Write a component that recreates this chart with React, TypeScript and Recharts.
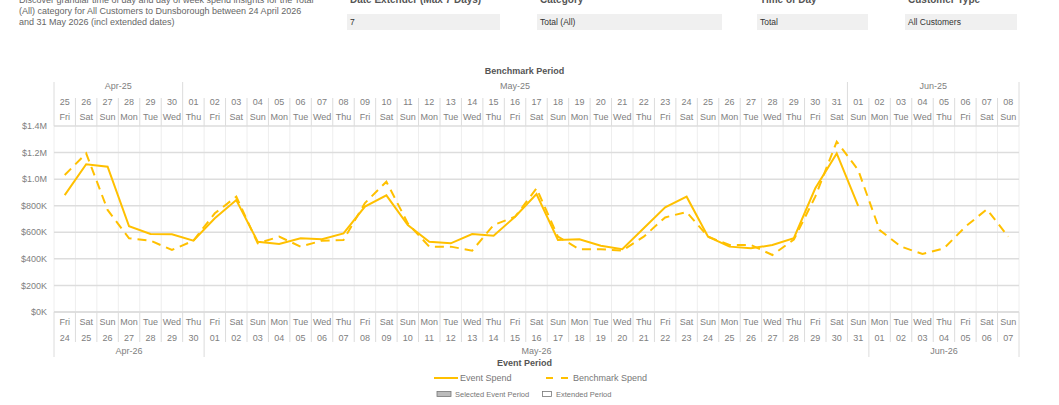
import React from 'react'
import { LineChart, Line, XAxis, YAxis, CartesianGrid } from 'recharts'

// weekday labels shared by both period axes
const weekdays = [
  'Fri', 'Sat', 'Sun', 'Mon', 'Tue', 'Wed', 'Thu',
  'Fri', 'Sat', 'Sun', 'Mon', 'Tue', 'Wed', 'Thu',
  'Fri', 'Sat', 'Sun', 'Mon', 'Tue', 'Wed', 'Thu',
  'Fri', 'Sat', 'Sun', 'Mon', 'Tue', 'Wed', 'Thu',
  'Fri', 'Sat', 'Sun', 'Mon', 'Tue', 'Wed', 'Thu',
  'Fri', 'Sat', 'Sun', 'Mon', 'Tue', 'Wed', 'Thu',
  'Fri', 'Sat', 'Sun',
]

// event period (bottom axis) day numbers
const eventDays = [
  '24', '25', '26', '27', '28', '29', '30',
  '01', '02', '03', '04', '05', '06', '07', '08', '09', '10', '11', '12', '13', '14', '15',
  '16', '17', '18', '19', '20', '21', '22', '23', '24', '25', '26', '27', '28', '29', '30', '31',
  '01', '02', '03', '04', '05', '06', '07',
]

// benchmark period (top axis) day numbers
const benchDays = [
  '25', '26', '27', '28', '29', '30',
  '01', '02', '03', '04', '05', '06', '07', '08', '09', '10', '11', '12', '13', '14', '15',
  '16', '17', '18', '19', '20', '21', '22', '23', '24', '25', '26', '27', '28', '29', '30', '31',
  '01', '02', '03', '04', '05', '06', '07', '08',
]

const eventMonths = [
  { label: 'Apr-26', start: 0, count: 7 },
  { label: 'May-26', start: 7, count: 31 },
  { label: 'Jun-26', start: 38, count: 7 },
]

const benchMonths = [
  { label: 'Apr-25', start: 0, count: 6 },
  { label: 'May-25', start: 6, count: 31 },
  { label: 'Jun-25', start: 37, count: 8 },
]

// spend in $K
const eventSpend = [
  880, 1112, 1094, 645, 588, 585, 537, 705, 843, 529, 512, 555, 547, 592, 793, 878, 655, 529, 517,
  587, 574, 717, 888, 542, 547, 499, 472, 630, 788, 868, 567, 492, 479, 504, 555, 931, 1194, 798,
]

const benchmarkSpend = [
  1031, 1194, 768, 555, 537, 467, 537, 743, 868, 517, 567, 492, 537, 542, 820, 981, 667, 492, 492,
  462, 655, 717, 931, 567, 472, 472, 462, 567, 712, 753, 567, 504, 504, 429, 545, 868, 1282, 1069,
  617, 492, 437, 479, 642, 773, 567,
]

const yTicks = [0, 200, 400, 600, 800, 1000, 1200, 1400]

const descriptionLines = [
  'Discover granular time of day and day of week spend insights for the Total',
  '(All) category for All Customers to Dunsborough between 24 April 2026',
  'and 31 May 2026 (incl extended dates)',
]

const data = weekdays.map((wd, i) => ({
  idx: i,
  event: i < eventSpend.length ? eventSpend[i] : null,
  bench: benchmarkSpend[i],
}))

const CHART_W = 1059
const CHART_H = 405
const MARGIN = { top: 82, right: 40, bottom: 48, left: 0 }
const Y_W = 54
const COL = (CHART_W - MARGIN.left - MARGIN.right - Y_W) / weekdays.length
const YELLOW = '#FFC000'
const SEP = '#dcdcdc'
const TXT = '#808080'
const FONT = '"Liberation Sans", Arial, sans-serif'

const fmtY = (v: number) => (v >= 1000 ? `$${(v / 1000).toFixed(1)}M` : `$${v}K`)

const TopTick = (props: any) => {
  const { x, y, payload } = props
  const i = payload.value as number
  const left = x - COL / 2
  const group = benchMonths.find((g) => g.start === i)
  return (
    <g fontFamily={FONT} fontSize={9} fill={TXT}>
      <line x1={left} x2={left} y1={y - (group ? 44 : 28)} y2={y} stroke={SEP} />
      {i === weekdays.length - 1 && (
        <line x1={x + COL / 2} x2={x + COL / 2} y1={y - 44} y2={y} stroke={SEP} />
      )}
      <text x={x} y={y - 21} textAnchor="middle">{benchDays[i]}</text>
      <text x={x} y={y - 6.5} textAnchor="middle">{weekdays[i]}</text>
      {group && (
        <text x={left + (group.count * COL) / 2} y={y - 37} textAnchor="middle">{group.label}</text>
      )}
    </g>
  )
}

const BottomTick = (props: any) => {
  const { x, y, payload } = props
  const i = payload.value as number
  const left = x - COL / 2
  const group = eventMonths.find((g) => g.start === i)
  return (
    <g fontFamily={FONT} fontSize={9} fill={TXT}>
      <line x1={left} x2={left} y1={y} y2={y + (group ? 45 : 30)} stroke={SEP} />
      {i === weekdays.length - 1 && (
        <line x1={x + COL / 2} x2={x + COL / 2} y1={y} y2={y + 45} stroke={SEP} />
      )}
      <text x={x} y={y + 13} textAnchor="middle">{weekdays[i]}</text>
      <text x={x} y={y + 29} textAnchor="middle">{eventDays[i]}</text>
      {group && (
        <text x={left + (group.count * COL) / 2} y={y + 42} textAnchor="middle">{group.label}</text>
      )}
    </g>
  )
}

const filters = [
  { label: 'Date Extender (Max 7 Days)', value: '7', left: 347, width: 153 },
  { label: 'Category', value: 'Total (All)', left: 537, width: 185 },
  { label: 'Time of Day', value: 'Total', left: 757, width: 111 },
  { label: 'Customer Type', value: 'All Customers', left: 905, width: 112 },
]

export default function App() {
  return (
    <div
      style={{
        position: 'absolute',
        left: 0,
        top: 0,
        width: CHART_W,
        height: CHART_H,
        background: '#fff',
        overflow: 'hidden',
        fontFamily: FONT,
      }}
    >
      <div
        style={{
          position: 'absolute',
          left: 19,
          top: -5,
          fontSize: 9,
          lineHeight: '11px',
          color: '#666',
          whiteSpace: 'nowrap',
        }}
      >
        {descriptionLines.map((l) => (
          <div key={l}>{l}</div>
        ))}
      </div>

      {filters.map((f) => (
        <React.Fragment key={f.label}>
          <div
            style={{
              position: 'absolute',
              left: f.left + 3,
              top: -6,
              fontSize: 10,
              lineHeight: '12px',
              fontWeight: 'bold',
              color: '#555',
              whiteSpace: 'nowrap',
            }}
          >
            {f.label}
          </div>
          <div
            style={{
              position: 'absolute',
              left: f.left,
              top: 14,
              width: f.width,
              height: 16,
              background: '#f0f0f0',
              fontSize: 8.5,
              lineHeight: '16px',
              color: '#333',
              paddingLeft: 3,
              boxSizing: 'border-box',
            }}
          >
            {f.value}
          </div>
        </React.Fragment>
      ))}

      <div
        style={{
          position: 'absolute',
          left: 0,
          width: CHART_W - 10,
          top: 66,
          textAlign: 'center',
          fontSize: 9,
          fontWeight: 'bold',
          color: '#555',
        }}
      >
        Benchmark Period
      </div>

      <div style={{ position: 'absolute', left: 0, top: 0 }}>
        <LineChart width={CHART_W} height={CHART_H} data={data} margin={MARGIN}>
          <CartesianGrid
            horizontal={false}
            stroke="#eeeeee"
            verticalCoordinatesGenerator={({ offset }: any) =>
              data.map((d) => offset.left + (d.idx * offset.width) / data.length).concat(offset.left + offset.width)
            }
          />
          <CartesianGrid vertical={false} stroke="#dddddd" strokeWidth={1.5} />
          <XAxis
            xAxisId="bottom"
            dataKey="idx"
            type="number"
            domain={[-0.5, weekdays.length - 0.5]}
            allowDataOverflow
            ticks={data.map((d) => d.idx)}
            interval={0}
            height={45}
            tickSize={0}
            tickMargin={0}
            axisLine={{ stroke: '#dddddd', strokeWidth: 1.5 }}
            tick={<BottomTick />}
          />
          <XAxis
            xAxisId="top"
            orientation="top"
            dataKey="idx"
            type="number"
            domain={[-0.5, weekdays.length - 0.5]}
            allowDataOverflow
            ticks={data.map((d) => d.idx)}
            interval={0}
            height={44}
            tickSize={0}
            tickMargin={0}
            axisLine={false}
            tick={<TopTick />}
          />
          <YAxis
            width={Y_W}
            domain={[0, 1400]}
            ticks={yTicks}
            tickFormatter={fmtY}
            axisLine={false}
            tickLine={false}
            tickSize={0}
            tickMargin={7}
            tick={{ fontSize: 9, fill: TXT, fontFamily: FONT }}
          />
          <Line
            xAxisId="bottom"
            type="linear"
            dataKey="bench"
            stroke={YELLOW}
            strokeWidth={2}
            strokeDasharray="9 6"
            dot={false}
            isAnimationActive={false}
          />
          <Line
            xAxisId="bottom"
            type="linear"
            dataKey="event"
            stroke={YELLOW}
            strokeWidth={2}
            dot={false}
            connectNulls={false}
            isAnimationActive={false}
          />
        </LineChart>
      </div>

      <div
        style={{
          position: 'absolute',
          left: 0,
          width: CHART_W - 10,
          top: 358,
          textAlign: 'center',
          fontSize: 9,
          fontWeight: 'bold',
          color: '#555',
        }}
      >
        Event Period
      </div>

      <svg
        style={{ position: 'absolute', left: 0, top: 0 }}
        width={CHART_W}
        height={CHART_H}
        pointerEvents="none"
      >
        <g fontFamily={FONT} fill="#777">
          <line x1={434} x2={458} y1={378} y2={378} stroke={YELLOW} strokeWidth={2} />
          <text x={460} y={381} fontSize={9}>Event Spend</text>
          <line x1={546} x2={569} y1={378} y2={378} stroke={YELLOW} strokeWidth={2} strokeDasharray="7 8" />
          <text x={573} y={381} fontSize={9}>Benchmark Spend</text>
          <rect x={437} y={391.5} width={14} height={5} fill="#bbbbbb" stroke="#777" strokeWidth={0.8} />
          <text x={455} y={396.5} fontSize={7.5}>Selected Event Period</text>
          <rect x={542.5} y={391.5} width={9} height={5} fill="#fff" stroke="#777" strokeWidth={0.8} />
          <text x={556} y={396.5} fontSize={7.5}>Extended Period</text>
        </g>
      </svg>
    </div>
  )
}
